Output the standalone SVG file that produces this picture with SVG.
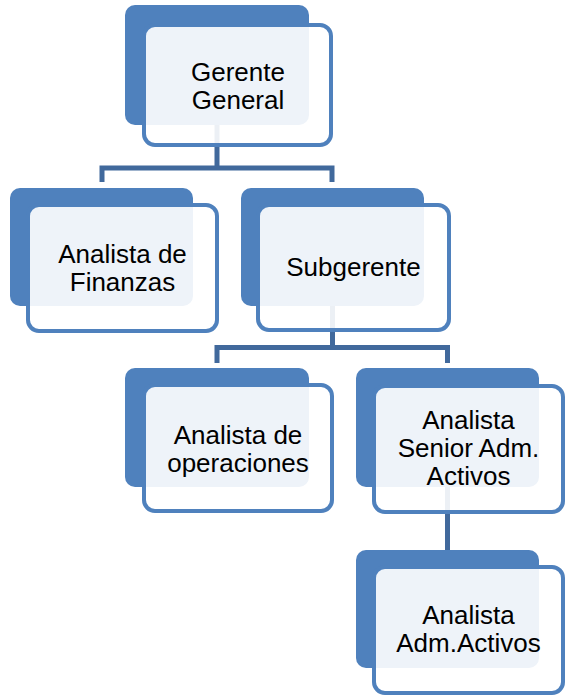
<svg xmlns="http://www.w3.org/2000/svg" width="567" height="698" viewBox="0 0 567 698">
<style>
.back{fill:#4f81bd;}
.front{fill:#ffffff;fill-opacity:0.9;stroke:#4f81bd;stroke-width:4;}
.conn{fill:none;stroke:#41699c;stroke-width:5;stroke-linejoin:miter;}
text{font-family:"Liberation Sans",Arial,sans-serif;font-size:26px;fill:#000;text-anchor:middle;}
</style>
<rect width="567" height="698" fill="#ffffff"/>
<g id="connectors">
<path class="conn" d="M217,125 V168 M102,182 V168 H332 V182"/>
<path class="conn" d="M332.5,306 V347.5 M217,363 V347.5 H447.5 V363"/>
<path class="conn" d="M447.5,487 V550"/>
</g>
<g id="n1">
<rect class="back" x="125" y="5" width="184" height="120" rx="10"/>
<rect class="front" x="144" y="25" width="187" height="120" rx="11"/>
<text x="238" y="80.5">Gerente</text>
<text x="238" y="108.5">General</text>
</g>
<g id="n2">
<rect class="back" x="10" y="188" width="183" height="118" rx="10"/>
<rect class="front" x="28" y="205" width="189" height="126" rx="11"/>
<text x="122.5" y="262.5">Analista de</text>
<text x="122.5" y="290.5">Finanzas</text>
</g>
<g id="n3">
<rect class="back" x="241" y="188" width="183" height="118" rx="10"/>
<rect class="front" x="258" y="205" width="191" height="125" rx="11"/>
<text x="353.5" y="276">Subgerente</text>
</g>
<g id="n4">
<rect class="back" x="125" y="368" width="184" height="119" rx="10"/>
<rect class="front" x="144" y="385" width="188" height="126" rx="11"/>
<text x="238" y="443.5">Analista de</text>
<text x="238" y="471.5">operaciones</text>
</g>
<g id="n5">
<rect class="back" x="356" y="368" width="183" height="119" rx="10"/>
<rect class="front" x="374" y="386" width="189" height="126" rx="11"/>
<text x="468.5" y="429">Analista</text>
<text x="468.5" y="457">Senior Adm.</text>
<text x="468.5" y="485">Activos</text>
</g>
<g id="n6">
<rect class="back" x="356" y="550" width="183" height="118" rx="10"/>
<rect class="front" x="374" y="567" width="189" height="126" rx="11"/>
<text x="468.5" y="623.5">Analista</text>
<text x="468.5" y="651.5">Adm.Activos</text>
</g>
</svg>
